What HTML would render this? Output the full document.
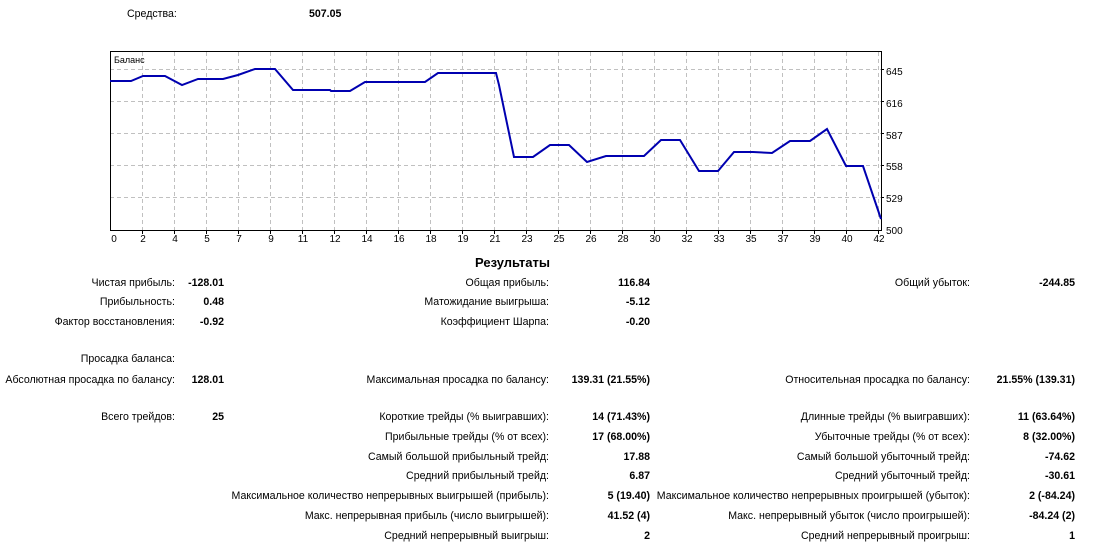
<!DOCTYPE html>
<html><head><meta charset="utf-8"><style>
body{margin:0;width:1099px;height:549px;background:#fff;position:relative;overflow:hidden;font-family:"Liberation Sans",sans-serif;font-size:10.6px;color:#000}
.l,.v{position:absolute;white-space:nowrap;line-height:13px}
.l{text-align:right}
.v{text-align:right;font-weight:bold}
</style></head><body>
<div class="l" style="left:127px;top:8px;text-align:left">Средства:</div>
<div class="v" style="left:309px;top:8px;text-align:left">507.05</div>
<svg style="position:absolute;left:0;top:0" width="1099" height="250">
<g stroke="#c0c0c0" stroke-dasharray="4,3" stroke-width="1">
<line x1="110" y1="69.5" x2="881" y2="69.5"/><line x1="110" y1="101.5" x2="881" y2="101.5"/><line x1="110" y1="133.5" x2="881" y2="133.5"/><line x1="110" y1="165.5" x2="881" y2="165.5"/><line x1="110" y1="197.5" x2="881" y2="197.5"/>
</g>
<g stroke="#c0c0c0" stroke-dasharray="4,3" stroke-width="1" id="vg"></g>
<rect x="110.5" y="51.5" width="771" height="179" fill="none" stroke="#000"/>
<polyline fill="none" stroke="#0000b0" stroke-width="2" points="110,81 131,81 143,76 165,76 182,85 198,79 223,79 238,75 255,69 275,69 293,90 330,90 331,91 350,91 365,82 425,82 438,73 496,73 499,85 514,157 533,157 550,145 569,145 587,162 606,156 624,156 644,156 661,140 680,140 699,171 718,171 734,152 753,152 772,153 790,141 810,141 827,129 846,166 863,166 881,219"/>
<text x="114" y="63" font-size="9" font-family="Liberation Sans">Баланс</text>
<g font-size="10" font-family="Liberation Sans" id="yl">
<text x="886" y="75">645</text><text x="886" y="107">616</text><text x="886" y="139">587</text><text x="886" y="170">558</text><text x="886" y="202">529</text><text x="886" y="234">500</text>
</g>
<g stroke="#000"><line x1="881" y1="69.5" x2="884" y2="69.5"/><line x1="881" y1="101.5" x2="884" y2="101.5"/><line x1="881" y1="133.5" x2="884" y2="133.5"/><line x1="881" y1="165.5" x2="884" y2="165.5"/><line x1="881" y1="197.5" x2="884" y2="197.5"/></g>
<g font-size="10" font-family="Liberation Sans" text-anchor="middle" id="xl"></g>
</svg>
<script>
var xs=["0","2","4","5","7","9","11","12","14","16","18","19","21","23","25","26","28","30","32","33","35","37","39","40","42"];
var vg=document.getElementById('vg'),xl=document.getElementById('xl'),ns="http://www.w3.org/2000/svg";
for(var i=0;i<xs.length;i++){var x=110+i*32;
if(i>0){var ln=document.createElementNS(ns,'line');ln.setAttribute('x1',x+.5);ln.setAttribute('x2',x+.5);ln.setAttribute('y1',52);ln.setAttribute('y2',230);vg.appendChild(ln);
var tk=document.createElementNS(ns,'line');tk.setAttribute('x1',x+.5);tk.setAttribute('x2',x+.5);tk.setAttribute('y1',230);tk.setAttribute('y2',234);tk.setAttribute('stroke','#000');vg.parentNode.appendChild(tk);}
var t=document.createElementNS(ns,'text');t.setAttribute('x',i==0?114:x+1);t.setAttribute('y',242);t.textContent=xs[i];xl.appendChild(t);}
</script>
<div class="v" style="left:475px;top:256px;font-size:13px;text-align:left">Результаты</div>
<div id="t"></div>
<script>
var rows=[
[277,"Чистая прибыль:","-128.01","Общая прибыль:","116.84","Общий убыток:","-244.85"],
[296,"Прибыльность:","0.48","Матожидание выигрыша:","-5.12","",""],
[316,"Фактор восстановления:","-0.92","Коэффициент Шарпа:","-0.20","",""],
[353,"Просадка баланса:","","","","",""],
[374,"Абсолютная просадка по балансу:","128.01","Максимальная просадка по балансу:","139.31 (21.55%)","Относительная просадка по балансу:","21.55% (139.31)"],
[411,"Всего трейдов:","25","Короткие трейды (% выигравших):","14 (71.43%)","Длинные трейды (% выигравших):","11 (63.64%)"],
[431,"","","Прибыльные трейды (% от всех):","17 (68.00%)","Убыточные трейды (% от всех):","8 (32.00%)"],
[451,"","","Самый большой прибыльный трейд:","17.88","Самый большой убыточный трейд:","-74.62"],
[470,"","","Средний прибыльный трейд:","6.87","Средний убыточный трейд:","-30.61"],
[490,"","","Максимальное количество непрерывных выигрышей (прибыль):","5 (19.40)","Максимальное количество непрерывных проигрышей (убыток):","2 (-84.24)"],
[510,"","","Макс. непрерывная прибыль (число выигрышей):","41.52 (4)","Макс. непрерывный убыток (число проигрышей):","-84.24 (2)"],
[530,"","","Средний непрерывный выигрыш:","2","Средний непрерывный проигрыш:","1"]];
var lx=[175,549,970],vx=[224,650,1075],h="";
rows.forEach(function(r){for(var c=0;c<3;c++){if(r[1+c*2])h+='<div class="l" style="right:'+(1099-lx[c])+'px;top:'+r[0]+'px">'+r[1+c*2]+'</div>';
if(r[2+c*2])h+='<div class="v" style="right:'+(1099-vx[c])+'px;top:'+r[0]+'px">'+r[2+c*2]+'</div>';}});
document.getElementById('t').innerHTML=h;
</script>
</body></html>
